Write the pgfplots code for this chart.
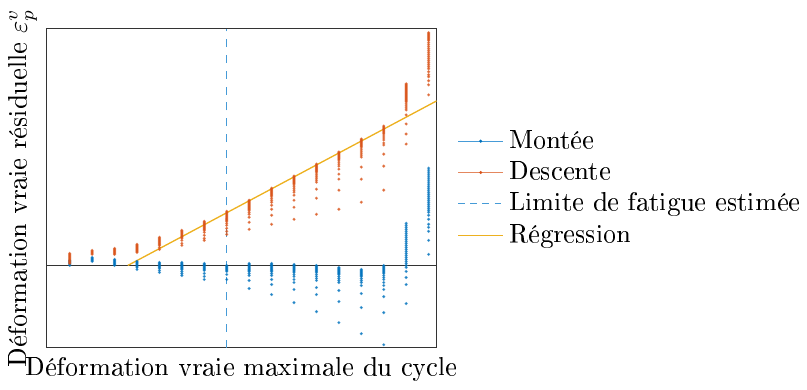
\documentclass[border=0pt]{standalone}
\usepackage{pgfplots}
\pgfplotsset{compat=1.18}
\usepackage[T1]{fontenc}

\definecolor{mblue}{RGB}{0,114,189}
\definecolor{morange}{RGB}{217,83,25}
\definecolor{myellow}{RGB}{237,177,32}
\definecolor{dblue}{RGB}{70,155,215}

\begin{document}
\begin{tikzpicture}
\begin{axis}[
    scale only axis,
    width=148pt, height=121pt,
    xmin=-0.04, xmax=17.36,
    ymin=-82, ymax=236,
    xtick=\empty, ytick=\empty,
    axis line style={black!80},
    xlabel={Déformation vraie maximale du cycle},
    ylabel={Déformation vraie résiduelle $\varepsilon_p^v$},
    legend style={draw=none, fill=none, at={(1.05,0.5)}, anchor=west,
        inner sep=0.5pt, outer sep=0pt, row sep=-0.5pt, cells={anchor=west}},
    clip=true,
]
% axe zero
\addplot[forget plot, black!80, line width=0.5pt] coordinates {(-0.04,0)(17.36,0)};

% Montee
\addplot[mblue, only marks, mark=*, mark size=0.36pt, mark options={fill=mblue, draw=none, opacity=0.65},
    legend image code/.code={\draw[dblue, line width=0.4pt] (0cm,0cm) -- (0.6cm,0cm); \fill[mblue] (0.3cm,0cm) circle (0.35pt);}]
coordinates {
(1,5)(1,4)(1,3)(1,2)(1,1)(1,0)
(2,8)(2,7)(2,6)(2,5)(2,4)
(3,6)(3,5)(3,4)(3,3)(3,2)(3,1)(3,0)
(4,4)(4,3)(4,2)(4,1)(4,0)(4,-1)(4,-2)(4,-4)
(5,3)(5,2)(5,1)(5,0)(5,-1)(5,-2)(5,-3)(5,-5)(5,-7)
(6,3)(6,2)(6,1)(6,0)(6,-1)(6,-2)(6,-3)(6,-4)(6,-6)(6,-8)(6,-10)
(7,2)(7,1)(7,0)(7,-1)(7,-2)(7,-3)(7,-4)(7,-5)(7,-8)(7,-11)(7,-14)
(8,0)(8,-1)(8,-2)(8,-3)(8,-4)(8,-5)(8,-6)(8,-9)(8,-14)
(9,2)(9,1)(9,0)(9,-1)(9,-2)(9,-3)(9,-4)(9,-5)(9,-6)(9,-8)(9,-10)(9,-15)(9,-23)
(10,2)(10,1)(10,0)(10,-1)(10,-2)(10,-3)(10,-4)(10,-5)(10,-6)(10,-8)(10,-10)(10,-14)(10,-19)(10,-29)
(11,1)(11,0)(11,-1)(11,-2)(11,-3)(11,-4)(11,-5)(11,-6)(11,-7)(11,-9)(11,-11)(11,-14)(11,-17)(11,-24)(11,-37)
(12,0)(12,-1)(12,-2)(12,-3)(12,-4)(12,-5)(12,-6)(12,-7)(12,-9)(12,-11)(12,-13)(12,-15)(12,-22)(12,-29)(12,-46)
(13,-2)(13,-3)(13,-4)(13,-5)(13,-6)(13,-7)(13,-8)(13,-9)(13,-11)(13,-13)(13,-15)(13,-17)(13,-25)(13,-36)(13,-57)
(14,-4)(14,-5)(14,-6)(14,-7)(14,-8)(14,-9)(14,-10)(14,-11)(14,-13)(14,-15)(14,-17)(14,-20)(14,-28)(14,-42)(14,-68)
(15,0)(15,-1)(15,-2)(15,-3)(15,-4)(15,-5)(15,-6)(15,-7)(15,-8)(15,-10)(15,-12)(15,-14)(15,-17)(15,-20)(15,-24)(15,-31)(15,-47)(15,-79)
(16,42)(16,40)(16,38)(16,36)(16,34)(16,32)(16,30)(16,28)(16,26)(16,24)(16,22)(16,20)(16,18)(16,16)(16,14)(16,12)(16,10)(16,8)(16,6)(16,4)(16,2)(16,0)(16,-2)(16,-6)(16,-12)(16,-19)(16,-38)
(17,97)(17,95)(17,93)(17,91)(17,89)(17,87)(17,85)(17,83)(17,81)(17,79)(17,77)(17,75)(17,73)(17,71)(17,69)(17,67)(17,65)(17,63)(17,61)(17,59)(17,57)(17,55)(17,53)(17,50)(17,46)(17,41)(17,38)(17,34)(17,25)(17,11)
};
\addlegendentry{Montée}

% Descente
\addplot[morange, only marks, mark=*, mark size=0.36pt, mark options={fill=morange, draw=none, opacity=0.65},
    legend image code/.code={\draw[morange!70, line width=0.4pt] (0cm,0cm) -- (0.6cm,0cm); \fill[morange] (0.3cm,0cm) circle (0.35pt);}]
coordinates {
(1,12)(1,11)(1,10)(1,9)(1,8)(1,7)(1,6)(1,5)(1,4)(1,3)(1,2)
(2,15)(2,14)(2,13)(2,12)(2,11)
(3,17)(3,16)(3,15)(3,14)(3,13)(3,12)(3,11)
(4,21)(4,20)(4,19)(4,18)(4,17)(4,16)(4,15)(4,14)(4,13)
(5,28)(5,27)(5,26)(5,25)(5,24)(5,23)(5,22)(5,21)(5,20)(5,18)(5,16)
(6,35)(6,34)(6,33)(6,32)(6,31)(6,30)(6,29)(6,28)(6,27)(6,25)(6,22)(6,20)
(7,44)(7,43)(7,42)(7,41)(7,40)(7,39)(7,38)(7,37)(7,36)(7,35)(7,33)(7,30)(7,27)(7,25)
(8,54)(8,53)(8,52)(8,51)(8,50)(8,49)(8,48)(8,47)(8,46)(8,45)(8,44)(8,42)(8,40)(8,37)(8,34)(8,31)
(9,65)(9,64)(9,63)(9,62)(9,61)(9,60)(9,59)(9,58)(9,57)(9,56)(9,55)(9,53)(9,51)(9,48)(9,43)(9,36)
(10,77)(10,76)(10,75)(10,74)(10,73)(10,72)(10,71)(10,70)(10,69)(10,67)(10,65)(10,63)(10,60)(10,56)(10,50)(10,41)
(11,89)(11,88)(11,87)(11,86)(11,85)(11,84)(11,83)(11,82)(11,81)(11,79)(11,77)(11,75)(11,73)(11,70)(11,65)(11,58)(11,46)
(12,101)(12,100)(12,99)(12,98)(12,97)(12,96)(12,95)(12,94)(12,93)(12,91)(12,89)(12,87)(12,85)(12,83)(12,76)(12,67)(12,51)
(13,113)(13,112)(13,111)(13,110)(13,109)(13,108)(13,107)(13,106)(13,105)(13,103)(13,101)(13,99)(13,96)(13,91)(13,86)(13,75)(13,56)
(14,126)(14,125)(14,124)(14,123)(14,122)(14,121)(14,120)(14,119)(14,118)(14,116)(14,114)(14,112)(14,110)(14,108)(14,98)(14,86)(14,63)
(15,139)(15,138)(15,137)(15,136)(15,135)(15,134)(15,133)(15,132)(15,131)(15,129)(15,127)(15,125)(15,122)(15,120)(15,111)(15,99)(15,75)
(16,181)(16,180)(16,179)(16,178)(16,177)(16,176)(16,175)(16,174)(16,173)(16,172)(16,171)(16,170)(16,169)(16,168)(16,167)(16,166)(16,165)(16,164)(16,163)(16,161)(16,159)(16,157)(16,155)(16,150)(16,141)(16,131)(16,121)
(17,232)(17,231)(17,230)(17,229)(17,228)(17,227)(17,226)(17,225)(17,224)(17,222)(17,220)(17,218)(17,216)(17,214)(17,212)(17,210)(17,208)(17,206)(17,204)(17,202)(17,200)(17,198)(17,196)(17,193)(17,190)(17,188)(17,184)(17,180)(17,170)
};
\addlegendentry{Descente}

% limite de fatigue
\addplot[dblue, line width=0.5pt, dash pattern=on 3pt off 3pt,
    legend image code/.code={\draw[dblue, line width=0.4pt, dash pattern=on 2.6pt off 2pt] (0cm,0cm) -- (0.6cm,0cm);}]
    coordinates {(8,-82)(8,236)};
\addlegendentry{Limite de fatigue estimée}

% regression
\addplot[myellow, line width=0.5pt,
    legend image code/.code={\draw[myellow, line width=0.5pt] (0cm,0cm) -- (0.6cm,0cm);}]
    coordinates {(3.59,0)(17.36,164)};
\addlegendentry{Régression}
\end{axis}
\end{tikzpicture}
\end{document}
